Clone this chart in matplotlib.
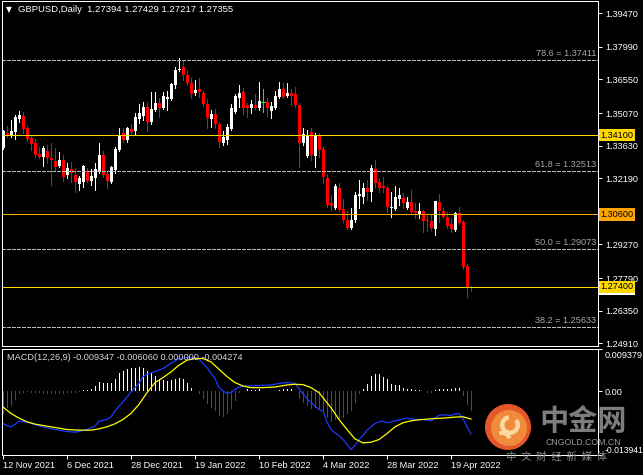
import matplotlib.pyplot as plt
import matplotlib.transforms as mtransforms
from matplotlib.patches import Circle, Wedge

W, H = 643, 475

# daily GBPUSD candles, 12 Nov 2021 .. 26 Apr 2022
opens = [1.3353, 1.3419, 1.3406, 1.3424, 1.3481, 1.3494, 1.3441, 1.3397, 1.3375, 1.3327,
         1.3314, 1.3340, 1.3309, 1.3296, 1.3274, 1.3300, 1.3234, 1.3261, 1.3234, 1.3195,
         1.3203, 1.3252, 1.3208, 1.3221, 1.3252, 1.3322, 1.3239, 1.3203, 1.3256, 1.3344,
         1.3419, 1.3388, 1.3437, 1.3428, 1.3481, 1.3494, 1.3534, 1.3468, 1.3521, 1.3552,
         1.3530, 1.3569, 1.3569, 1.3631, 1.3697, 1.3711, 1.3675, 1.3640, 1.3596, 1.3613,
         1.3596, 1.3547, 1.3481, 1.3503, 1.3459, 1.3375, 1.3388, 1.3437, 1.3512, 1.3574,
         1.3600, 1.3543, 1.3530, 1.3543, 1.3530, 1.3556, 1.3556, 1.3516, 1.3530, 1.3578,
         1.3613, 1.3582, 1.3596, 1.3591, 1.3543, 1.3375, 1.3318, 1.3424, 1.3318, 1.3406,
         1.3349, 1.3221, 1.3111, 1.3089, 1.3177, 1.3084, 1.3036, 1.3001, 1.3036, 1.3142,
         1.3137, 1.3177, 1.3159, 1.3261, 1.3203, 1.3186, 1.3177, 1.3089, 1.3084, 1.3128,
         1.3133, 1.3089, 1.3115, 1.3075, 1.3062, 1.3075, 1.3036, 1.3031, 1.2996, 1.3115,
         1.3075, 1.3049, 1.3018, 1.2992, 1.3067, 1.3027, 1.2833, 1.27394]
highs = [1.3433, 1.3450, 1.3477, 1.3499, 1.3516, 1.3512, 1.3450, 1.3411, 1.3393, 1.3358,
         1.3362, 1.3366, 1.3375, 1.3353, 1.3336, 1.3322, 1.3287, 1.3292, 1.3265, 1.3230,
         1.3278, 1.3265, 1.3261, 1.3287, 1.3375, 1.3340, 1.3248, 1.3274, 1.3358, 1.3441,
         1.3441, 1.3446, 1.3459, 1.3508, 1.3547, 1.3556, 1.3556, 1.3600, 1.3600, 1.3574,
         1.3600, 1.3605, 1.3640, 1.3711, 1.3750, 1.3741, 1.3697, 1.3662, 1.3653, 1.3662,
         1.3605, 1.3569, 1.3521, 1.3525, 1.3468, 1.3428, 1.3459, 1.3547, 1.3591, 1.3631,
         1.3618, 1.3552, 1.3565, 1.3591, 1.3644, 1.3613, 1.3574, 1.3556, 1.3605, 1.3644,
         1.3640, 1.3640, 1.3613, 1.3622, 1.3552, 1.3441, 1.3433, 1.3441, 1.3419, 1.3419,
         1.3358, 1.3239, 1.3146, 1.3195, 1.3199, 1.3128, 1.3075, 1.3089, 1.3159, 1.3212,
         1.3199, 1.3212, 1.3278, 1.3300, 1.3221, 1.3226, 1.3186, 1.3159, 1.3186, 1.3177,
         1.3155, 1.3137, 1.3168, 1.3111, 1.3111, 1.3080, 1.3058, 1.3062, 1.3120, 1.3150,
         1.3089, 1.3071, 1.3045, 1.3071, 1.3093, 1.3036, 1.2842, 1.27429]
lows = [1.3349, 1.3402, 1.3402, 1.3393, 1.3468, 1.3419, 1.3384, 1.3344, 1.3314, 1.3309,
        1.3274, 1.3287, 1.3190, 1.3256, 1.3270, 1.3208, 1.3221, 1.3203, 1.3159, 1.3168,
        1.3181, 1.3203, 1.3190, 1.3168, 1.3243, 1.3226, 1.3177, 1.3199, 1.3243, 1.3340,
        1.3380, 1.3380, 1.3415, 1.3411, 1.3464, 1.3477, 1.3428, 1.3459, 1.3516, 1.3490,
        1.3525, 1.3521, 1.3565, 1.3618, 1.3693, 1.3653, 1.3631, 1.3574, 1.3587, 1.3578,
        1.3539, 1.3441, 1.3446, 1.3441, 1.3358, 1.3366, 1.3371, 1.3433, 1.3508, 1.3534,
        1.3503, 1.3490, 1.3508, 1.3525, 1.3521, 1.3512, 1.3494, 1.3486, 1.3525, 1.3574,
        1.3574, 1.3578, 1.3543, 1.3534, 1.3270, 1.3366, 1.3314, 1.3300, 1.3270, 1.3314,
        1.3199, 1.3093, 1.3080, 1.3084, 1.3075, 1.3027, 1.2996, 1.2996, 1.3027, 1.3089,
        1.3111, 1.3124, 1.3120, 1.3177, 1.3159, 1.3159, 1.3071, 1.3049, 1.3080, 1.3102,
        1.3089, 1.3084, 1.3067, 1.3045, 1.3045, 1.2983, 1.2987, 1.2992, 1.2970, 1.3027,
        1.3045, 1.3001, 1.2983, 1.2987, 1.3018, 1.2820, 1.2696, 1.27217]
closes = [1.3428, 1.3411, 1.3428, 1.3490, 1.3499, 1.3437, 1.3393, 1.3371, 1.3322, 1.3314,
          1.3353, 1.3309, 1.3300, 1.3270, 1.3300, 1.3226, 1.3265, 1.3243, 1.3203, 1.3221,
          1.3274, 1.3208, 1.3230, 1.3261, 1.3322, 1.3234, 1.3208, 1.3270, 1.3349, 1.3411,
          1.3388, 1.3441, 1.3424, 1.3490, 1.3508, 1.3534, 1.3468, 1.3525, 1.3552, 1.3530,
          1.3582, 1.3578, 1.3636, 1.3697, 1.3702, 1.3675, 1.3640, 1.3591, 1.3609, 1.3600,
          1.3547, 1.3486, 1.3503, 1.3459, 1.3380, 1.3402, 1.3446, 1.3530, 1.3582, 1.3596,
          1.3530, 1.3530, 1.3547, 1.3530, 1.3561, 1.3556, 1.3530, 1.3539, 1.3582, 1.3613,
          1.3578, 1.3596, 1.3582, 1.3543, 1.3375, 1.3415, 1.3411, 1.3322, 1.3406, 1.3344,
          1.3226, 1.3102, 1.3097, 1.3186, 1.3080, 1.3036, 1.3001, 1.3036, 1.3146, 1.3150,
          1.3177, 1.3159, 1.3265, 1.3199, 1.3177, 1.3177, 1.3093, 1.3093, 1.3137, 1.3146,
          1.3111, 1.3115, 1.3071, 1.3067, 1.3075, 1.3031, 1.3031, 1.3001, 1.3120, 1.3075,
          1.3049, 1.3009, 1.2996, 1.3067, 1.3023, 1.2829, 1.2740, 1.27355]

date_bars = [0, 16, 32, 48, 64, 80, 96, 112]
date_labels = ['12 Nov 2021', '6 Dec 2021', '28 Dec 2021', '19 Jan 2022',
               '10 Feb 2022', '4 Mar 2022', '28 Mar 2022', '19 Apr 2022']

price_ticks = [1.39470, 1.37990, 1.36550, 1.35070, 1.33630, 1.32190,
               1.29270, 1.27790, 1.26350, 1.24910]

level_values = [1.34100, 1.30600, 1.27400]
level_colors = ['#ffd700', '#ffa500', '#ffd700']

fib_pcts = ['78.6', '61.8', '50.0', '38.2']
fib_values = [1.37411, 1.32513, 1.29073, 1.25633]

bid = 1.27355

# MACD panel
macd_hist = [-0.00506, -0.00359, -0.00323, -0.00198, -0.00051, -0.00029, -0.0002, -0.0003, -0.0003, -0.0004,
             -0.0005, -0.0005, -0.0005, -0.0006, -0.0005, -0.0005, -0.0004, -0.0004, -0.0003, -0.0002,
             0.0003, 0.0003, 0.00044, 0.00117, 0.00205, 0.0019, 0.0019, 0.0019, 0.00264, 0.0041,
             0.00447, 0.00484, 0.00506, 0.0052, 0.00535, 0.0052, 0.00447, 0.0041, 0.00337, 0.00264,
             0.00249, 0.00227, 0.00249, 0.00279, 0.003, 0.00279, 0.0019, 0.00081, 0.0, -0.00066,
             -0.00176, -0.00286, -0.00359, -0.00432, -0.00542, -0.00557, -0.00506, -0.00396, -0.00213, -0.00044,
             0.0, 0.00044, 0.00029, 0.00029, 0.00044, 0.0001, 0.0, 0.0, 0.0001, 0.00029,
             0.00044, 0.00059, 0.00044, 0.0001, -0.00161, -0.00249, -0.00323, -0.00396, -0.00359, -0.0041,
             -0.00432, -0.00579, -0.00674, -0.00638, -0.00616, -0.00579, -0.00506, -0.00432, -0.00249, -0.00066,
             0.00044, 0.00169, 0.00337, 0.00389, 0.00389, 0.00323, 0.00264, 0.00154, 0.00139, 0.00139,
             0.00081, 0.00059, 0.00044, 0.00029, 0.00022, 0.0, -0.00029, -0.00044, 0.00029, 0.00059,
             0.00059, 0.00044, 0.00044, 0.00066, 0.00066, -0.00103, -0.00308, -0.004274]

blue_x = [0, 1, 2, 3, 4, 6, 8, 10, 13, 16, 18, 19, 21, 23, 24, 26, 27, 28, 29, 30,
          32, 33, 34, 35, 36, 38, 40, 42, 44, 46, 48, 49, 51, 53, 54, 55, 56, 57, 58, 59,
          61, 65, 67, 69, 71, 73, 74, 76, 78, 79, 80, 81, 82, 83, 84, 85, 86, 87, 88, 89,
          90, 91, 92, 93, 94, 95, 96, 97, 98, 99, 100, 101, 103, 105, 107, 108, 109, 110, 112, 113,
          114, 115, 116, 117]
blue_y = [-0.00704, -0.00748, -0.00777, -0.00726, -0.00652, -0.00674, -0.00726, -0.00777, -0.00836, -0.0088,
          -0.00894, -0.0088, -0.00836, -0.00762, -0.00652, -0.00616, -0.00557, -0.00432, -0.00323, -0.00235,
          -0.00015, 0.00081, 0.00176, 0.00323, 0.00374, 0.00432, 0.00498, 0.00616, 0.00718, 0.0074,
          0.0074, 0.00704, 0.0052, 0.00279, 0.00081, 0.00007, -0.00044, -0.00029, 0.00044, 0.00095,
          0.00117, 0.00132, 0.00139, 0.00176, 0.00191, 0.00176, 0.00059, -0.00161, -0.00323, -0.00396,
          -0.00432, -0.00674, -0.00836, -0.00909, -0.00968, -0.01056, -0.01165, -0.01275, -0.01187, -0.01056,
          -0.00968, -0.0085, -0.00777, -0.00704, -0.00667, -0.00652, -0.00689, -0.00674, -0.00645, -0.0063,
          -0.00601, -0.00586, -0.00616, -0.00616, -0.00645, -0.00579, -0.00528, -0.00513, -0.00528, -0.00498,
          -0.00484, -0.00601, -0.00777, -0.009347]

yellow_x = [0, 2, 4, 6, 8, 10, 13, 16, 19, 22, 24, 26, 28, 30, 32, 34, 36, 38, 40, 42,
            44, 46, 48, 50, 52, 54, 56, 58, 60, 62, 65, 68, 71, 73, 75, 77, 79, 80, 82, 84,
            86, 88, 90, 92, 94, 96, 98, 100, 102, 104, 107, 110, 113, 115, 117]
yellow_y = [-0.00345, -0.00484, -0.00586, -0.00667, -0.00718, -0.00748, -0.00792, -0.00836, -0.0085, -0.0085,
            -0.00821, -0.00777, -0.00711, -0.00616, -0.00484, -0.00286, -0.00029, 0.00191, 0.00301, 0.00425,
            0.00572, 0.00682, 0.00718, 0.00718, 0.00645, 0.00484, 0.00323, 0.00191, 0.00117, 0.00081,
            0.00081, 0.00095, 0.00139, 0.00154, 0.00147, 0.00081, -0.00029, -0.00139, -0.00359, -0.00616,
            -0.00836, -0.01041, -0.01129, -0.01114, -0.01056, -0.00924, -0.00777, -0.00689, -0.00645, -0.00623,
            -0.00601, -0.00586, -0.00564, -0.00557, -0.00606]

macd_max, macd_min = 0.009379, -0.013941

plt.rcParams['font.family'] = ['Liberation Sans', 'DejaVu Sans']
FS = 6.6
PX = 0.72  # one pixel in points

fig = plt.figure(figsize=(W / 100, H / 100), dpi=100, facecolor='black')
ax = fig.add_axes([2 / W, 1 - 346 / H, 596 / W, 345 / H], facecolor='black')
ax2 = fig.add_axes([2 / W, 1 - 455 / H, 596 / W, 106.5 / H], facecolor='black')

# candles
for i in range(len(opens)):
    o, h, l, c = opens[i], highs[i], lows[i], closes[i]
    if c > o:
        col = 'white'
    elif c < o:
        col = '#ff0000'
    else:
        col = '#00ff00'
    ax.vlines(i, l, h, color=col, lw=PX, antialiased=False)
    if c == o:
        ax.hlines(c, i - 0.5, i + 0.5, color=col, lw=PX, antialiased=False)
    else:
        ax.bar(i, max(abs(c - o), 0.0003), bottom=min(o, c), width=0.75, color=col, lw=0,
               antialiased=False)

blend = mtransforms.blended_transform_factory(ax.transAxes, ax.transData)

for pct, val in zip(fib_pcts, fib_values):
    ax.axhline(val, color='#b9b9b9', lw=PX, dashes=(3, 2), antialiased=False)
    ax.text(0.997, val + 0.0007, f'{pct} = {val:.5f}', transform=blend, ha='right', va='bottom',
            color='#a8a8a8', fontsize=FS)

for val, col in zip(level_values, level_colors):
    ax.axhline(val, color=col, lw=PX, antialiased=False)

ax.set_xlim(-0.25, 148.75)
ax.set_ylim(1.24791, 1.40013)
ax.set_xticks([])
ax.yaxis.tick_right()
ax.set_yticks(price_ticks)
ax.set_yticklabels([f'{v:.5f}' for v in price_ticks])
ax.tick_params(axis='y', colors='white', length=3, width=PX, labelsize=FS, pad=2)
for s in ax.spines.values():
    s.set_color('white')
    s.set_linewidth(PX)

# bid label peeking under the last level box, then the level boxes
ax.text(1.004, bid - 0.0003, f'{bid:.5f}', transform=blend, ha='left', va='center', fontsize=FS,
        color='white', bbox=dict(boxstyle='square,pad=0.2', fc='white', ec='none'), zorder=9, clip_on=False)
for val, col in zip(level_values, level_colors):
    ax.text(1.004, val, f'{val:.5f}', transform=blend, ha='left', va='center', fontsize=FS,
            color='black', bbox=dict(boxstyle='square,pad=0.2', fc=col, ec='none'), zorder=10, clip_on=False)

# MACD histogram: white above zero, red below
hist_cols = ['white' if v >= 0 else '#ff0000' for v in macd_hist]
ax2.bar(range(len(macd_hist)), macd_hist, width=0.25, color=hist_cols, lw=0, antialiased=False)
ax2.plot(blue_x, blue_y, color='#1a3cff', lw=0.9)
ax2.plot(yellow_x, yellow_y, color='#ffff00', lw=0.9)
ax2.set_xlim(-0.25, 148.75)
ax2.set_ylim(macd_min, macd_max)
ax2.yaxis.tick_right()
ax2.set_yticks([macd_max, 0.0, macd_min])
ax2.set_yticklabels(['0.009379', '0.00', '-0.013941'])
ax2.tick_params(axis='y', colors='white', length=3, width=PX, labelsize=FS, pad=1.5)
ylab = ax2.get_yticklabels()
ylab[0].set_va('top')
ylab[0].set_transform(ylab[0].get_transform() + mtransforms.ScaledTranslation(0, -3 / 100, fig.dpi_scale_trans))
ylab[2].set_va('bottom')
ylab[2].set_fontsize(6.2)
ax2.set_xticks(date_bars)
ax2.set_xticklabels(date_labels, ha='left')
ax2.tick_params(axis='x', colors='white', length=3, width=PX, labelsize=FS, pad=1.5)
for s in ax2.spines.values():
    s.set_color('white')
    s.set_linewidth(PX)
ax2.text(5 / 596, 0.92, 'MACD(12,26,9) -0.009347 -0.006060 0.000000 -0.004274', transform=ax2.transAxes,
         ha='left', va='center', color='#d8d8d8', fontsize=FS)

# header
fig.text(6 / W, 1 - 10 / H, '\u25bc', color='white', fontsize=5.5, va='center', ha='left',
         family='DejaVu Sans')
fig.text(18 / W, 1 - 10 / H, 'GBPUSD,Daily  1.27394 1.27429 1.27217 1.27355', color='white',
         fontsize=6.8, va='center', ha='left')

# watermark logo and text
fig.add_artist(Circle((5.08, 0.48), 0.23, transform=fig.dpi_scale_trans, fc='#e4572a', ec='none'))
fig.add_artist(Circle((5.09, 0.47), 0.18, transform=fig.dpi_scale_trans, fc='#f08a3c', ec='none'))
fig.add_artist(Wedge((5.10, 0.50), 0.10, 100, 400, width=0.045, transform=fig.dpi_scale_trans,
                     fc='#fbd99c', ec='none'))
fig.add_artist(Wedge((5.02, 0.34), 0.10, 20, 110, width=0.04, transform=fig.dpi_scale_trans,
                     fc='#fbd99c', ec='none'))
cjk = ['Noto Sans CJK SC', 'DejaVu Sans']
fig.text(583 / W, 1 - 421 / H, '中金网', color='#7d7d7d', fontsize=21, fontweight='bold',
         ha='center', va='center', family=cjk)
fig.text(583 / W, 1 - 442.5 / H, 'CNGOLD.COM.CN', color='#9a9a9a', fontsize=6.3,
         ha='center', va='center')
fig.text(557 / W, 1 - 457 / H, '中  文  财  经  新  媒  体', color='#8a8a8a', fontsize=7.5,
         ha='center', va='center', family=cjk)

fig.savefig('out.png', dpi=100, facecolor='black')
